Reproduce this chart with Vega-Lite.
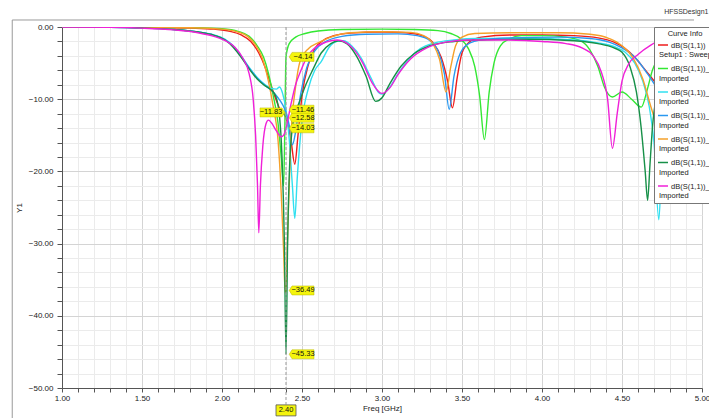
{
  "$schema": "https://vega.github.io/schema/vega-lite/v6.json",
  "width": 640,
  "height": 361,
  "autosize": "none",
  "padding": {"left": 62, "top": 27, "right": 7, "bottom": 30},
  "background": "white",
  "config": {
    "font": "Liberation Sans",
    "view": {"stroke": null},
    "axis": {
      "labelOverlap": false, "labelFlush": false, "labelBound": false,
      "labelFontSize": 8, "labelColor": "#222",
      "titleFontSize": 8, "titleFontWeight": "normal", "titleColor": "#222",
      "tickColor": "#555", "domainColor": "#555",
      "grid": true, "gridColor": "#e6e6e6", "tickCount": 100
    },
    "axisX": {"tickSize": 4, "labelPadding": 2, "titlePadding": 2},
    "axisY": {"tickSize": 5, "labelPadding": 4, "titlePadding": 5}
  },
  "title": {"text": "S Parameter Plot 1", "fontSize": 13, "fontWeight": "bold", "color": "#111", "dx": -10, "offset": 5, "anchor": "middle"},
  "data": {"values": [{"anchor": 1}]},
  "datasets": {
    "curves": [
      {"curve":"dB(S(1,1))|Setup1 : Sweep","f":1.0,"db":0},{"curve":"dB(S(1,1))|Setup1 : Sweep","f":1.3,"db":-0.02},{"curve":"dB(S(1,1))|Setup1 : Sweep","f":1.6,"db":-0.06},{"curve":"dB(S(1,1))|Setup1 : Sweep","f":1.8,"db":-0.15},{"curve":"dB(S(1,1))|Setup1 : Sweep","f":1.95,"db":-0.3},{"curve":"dB(S(1,1))|Setup1 : Sweep","f":2.05,"db":-0.6},{"curve":"dB(S(1,1))|Setup1 : Sweep","f":2.12,"db":-1.1},{"curve":"dB(S(1,1))|Setup1 : Sweep","f":2.18,"db":-2.0},{"curve":"dB(S(1,1))|Setup1 : Sweep","f":2.23,"db":-3.6},{"curve":"dB(S(1,1))|Setup1 : Sweep","f":2.27,"db":-5.6},{"curve":"dB(S(1,1))|Setup1 : Sweep","f":2.3,"db":-7.6},{"curve":"dB(S(1,1))|Setup1 : Sweep","f":2.33,"db":-9.6},{"curve":"dB(S(1,1))|Setup1 : Sweep","f":2.36,"db":-11.3},{"curve":"dB(S(1,1))|Setup1 : Sweep","f":2.4,"db":-12.58},{"curve":"dB(S(1,1))|Setup1 : Sweep","f":2.43,"db":-15.5},{"curve":"dB(S(1,1))|Setup1 : Sweep","f":2.455,"db":-19},{"curve":"dB(S(1,1))|Setup1 : Sweep","f":2.475,"db":-15},{"curve":"dB(S(1,1))|Setup1 : Sweep","f":2.5,"db":-9.5},{"curve":"dB(S(1,1))|Setup1 : Sweep","f":2.54,"db":-5.2},{"curve":"dB(S(1,1))|Setup1 : Sweep","f":2.58,"db":-3.0},{"curve":"dB(S(1,1))|Setup1 : Sweep","f":2.63,"db":-1.9},{"curve":"dB(S(1,1))|Setup1 : Sweep","f":2.7,"db":-1.2},{"curve":"dB(S(1,1))|Setup1 : Sweep","f":2.8,"db":-0.85},{"curve":"dB(S(1,1))|Setup1 : Sweep","f":3.0,"db":-0.7},{"curve":"dB(S(1,1))|Setup1 : Sweep","f":3.15,"db":-0.8},{"curve":"dB(S(1,1))|Setup1 : Sweep","f":3.25,"db":-1.2},{"curve":"dB(S(1,1))|Setup1 : Sweep","f":3.32,"db":-2.2},{"curve":"dB(S(1,1))|Setup1 : Sweep","f":3.37,"db":-4.2},{"curve":"dB(S(1,1))|Setup1 : Sweep","f":3.41,"db":-7.5},{"curve":"dB(S(1,1))|Setup1 : Sweep","f":3.44,"db":-11.2},{"curve":"dB(S(1,1))|Setup1 : Sweep","f":3.47,"db":-7},{"curve":"dB(S(1,1))|Setup1 : Sweep","f":3.5,"db":-3.6},{"curve":"dB(S(1,1))|Setup1 : Sweep","f":3.55,"db":-2.0},{"curve":"dB(S(1,1))|Setup1 : Sweep","f":3.62,"db":-1.4},{"curve":"dB(S(1,1))|Setup1 : Sweep","f":3.8,"db":-1.1},{"curve":"dB(S(1,1))|Setup1 : Sweep","f":4.0,"db":-1.1},{"curve":"dB(S(1,1))|Setup1 : Sweep","f":4.2,"db":-1.2},{"curve":"dB(S(1,1))|Setup1 : Sweep","f":4.35,"db":-1.5},{"curve":"dB(S(1,1))|Setup1 : Sweep","f":4.45,"db":-2.1},{"curve":"dB(S(1,1))|Setup1 : Sweep","f":4.52,"db":-3.0},{"curve":"dB(S(1,1))|Setup1 : Sweep","f":4.58,"db":-4.2},{"curve":"dB(S(1,1))|Setup1 : Sweep","f":4.64,"db":-5.8},{"curve":"dB(S(1,1))|Setup1 : Sweep","f":4.72,"db":-8},{"curve":"dB(S(1,1))|Setup1 : Sweep","f":4.82,"db":-10.5},{"curve":"dB(S(1,1))|Setup1 : Sweep","f":4.92,"db":-12.5},{"curve":"dB(S(1,1))|Setup1 : Sweep","f":5.0,"db":-14},

      {"curve":"dB(S(1,1))_1|Imported","f":1.0,"db":0},{"curve":"dB(S(1,1))_1|Imported","f":1.5,"db":-0.02},{"curve":"dB(S(1,1))_1|Imported","f":1.8,"db":-0.08},{"curve":"dB(S(1,1))_1|Imported","f":2.0,"db":-0.25},{"curve":"dB(S(1,1))_1|Imported","f":2.1,"db":-0.6},{"curve":"dB(S(1,1))_1|Imported","f":2.17,"db":-1.3},{"curve":"dB(S(1,1))_1|Imported","f":2.22,"db":-2.6},{"curve":"dB(S(1,1))_1|Imported","f":2.26,"db":-4.2},{"curve":"dB(S(1,1))_1|Imported","f":2.29,"db":-6.4},{"curve":"dB(S(1,1))_1|Imported","f":2.32,"db":-9.5},{"curve":"dB(S(1,1))_1|Imported","f":2.35,"db":-13.3},{"curve":"dB(S(1,1))_1|Imported","f":2.37,"db":-18},{"curve":"dB(S(1,1))_1|Imported","f":2.385,"db":-22},{"curve":"dB(S(1,1))_1|Imported","f":2.392,"db":-15},{"curve":"dB(S(1,1))_1|Imported","f":2.4,"db":-4.14},{"curve":"dB(S(1,1))_1|Imported","f":2.42,"db":-2.3},{"curve":"dB(S(1,1))_1|Imported","f":2.46,"db":-1.4},{"curve":"dB(S(1,1))_1|Imported","f":2.52,"db":-0.9},{"curve":"dB(S(1,1))_1|Imported","f":2.6,"db":-0.55},{"curve":"dB(S(1,1))_1|Imported","f":2.75,"db":-0.35},{"curve":"dB(S(1,1))_1|Imported","f":3.0,"db":-0.3},{"curve":"dB(S(1,1))_1|Imported","f":3.2,"db":-0.35},{"curve":"dB(S(1,1))_1|Imported","f":3.35,"db":-0.5},{"curve":"dB(S(1,1))_1|Imported","f":3.43,"db":-0.9},{"curve":"dB(S(1,1))_1|Imported","f":3.49,"db":-1.6},{"curve":"dB(S(1,1))_1|Imported","f":3.54,"db":-3},{"curve":"dB(S(1,1))_1|Imported","f":3.58,"db":-5.5},{"curve":"dB(S(1,1))_1|Imported","f":3.61,"db":-9.5},{"curve":"dB(S(1,1))_1|Imported","f":3.64,"db":-15.6},{"curve":"dB(S(1,1))_1|Imported","f":3.67,"db":-9},{"curve":"dB(S(1,1))_1|Imported","f":3.7,"db":-5},{"curve":"dB(S(1,1))_1|Imported","f":3.74,"db":-2.6},{"curve":"dB(S(1,1))_1|Imported","f":3.8,"db":-1.6},{"curve":"dB(S(1,1))_1|Imported","f":3.87,"db":-1.2},{"curve":"dB(S(1,1))_1|Imported","f":4.0,"db":-1.2},{"curve":"dB(S(1,1))_1|Imported","f":4.15,"db":-1.4},{"curve":"dB(S(1,1))_1|Imported","f":4.24,"db":-1.9},{"curve":"dB(S(1,1))_1|Imported","f":4.3,"db":-3.2},{"curve":"dB(S(1,1))_1|Imported","f":4.35,"db":-5.5},{"curve":"dB(S(1,1))_1|Imported","f":4.39,"db":-8.3},{"curve":"dB(S(1,1))_1|Imported","f":4.44,"db":-9.7},{"curve":"dB(S(1,1))_1|Imported","f":4.5,"db":-9.0},{"curve":"dB(S(1,1))_1|Imported","f":4.56,"db":-10},{"curve":"dB(S(1,1))_1|Imported","f":4.62,"db":-11.1},{"curve":"dB(S(1,1))_1|Imported","f":4.66,"db":-8.5},{"curve":"dB(S(1,1))_1|Imported","f":4.69,"db":-6},{"curve":"dB(S(1,1))_1|Imported","f":4.75,"db":-3.8},{"curve":"dB(S(1,1))_1|Imported","f":4.85,"db":-2.5},{"curve":"dB(S(1,1))_1|Imported","f":5.0,"db":-2},

      {"curve":"dB(S(1,1))_2|Imported","f":1.0,"db":0},{"curve":"dB(S(1,1))_2|Imported","f":1.3,"db":-0.03},{"curve":"dB(S(1,1))_2|Imported","f":1.5,"db":-0.12},{"curve":"dB(S(1,1))_2|Imported","f":1.7,"db":-0.35},{"curve":"dB(S(1,1))_2|Imported","f":1.85,"db":-0.7},{"curve":"dB(S(1,1))_2|Imported","f":1.95,"db":-1.1},{"curve":"dB(S(1,1))_2|Imported","f":2.02,"db":-1.7},{"curve":"dB(S(1,1))_2|Imported","f":2.07,"db":-2.6},{"curve":"dB(S(1,1))_2|Imported","f":2.12,"db":-4},{"curve":"dB(S(1,1))_2|Imported","f":2.17,"db":-5.6},{"curve":"dB(S(1,1))_2|Imported","f":2.22,"db":-7},{"curve":"dB(S(1,1))_2|Imported","f":2.27,"db":-8},{"curve":"dB(S(1,1))_2|Imported","f":2.31,"db":-8.5},{"curve":"dB(S(1,1))_2|Imported","f":2.34,"db":-8.6},{"curve":"dB(S(1,1))_2|Imported","f":2.36,"db":-8.3},{"curve":"dB(S(1,1))_2|Imported","f":2.38,"db":-9.3},{"curve":"dB(S(1,1))_2|Imported","f":2.4,"db":-11.46},{"curve":"dB(S(1,1))_2|Imported","f":2.42,"db":-15.5},{"curve":"dB(S(1,1))_2|Imported","f":2.44,"db":-22},{"curve":"dB(S(1,1))_2|Imported","f":2.455,"db":-26.5},{"curve":"dB(S(1,1))_2|Imported","f":2.47,"db":-21},{"curve":"dB(S(1,1))_2|Imported","f":2.5,"db":-13},{"curve":"dB(S(1,1))_2|Imported","f":2.54,"db":-8.5},{"curve":"dB(S(1,1))_2|Imported","f":2.58,"db":-6},{"curve":"dB(S(1,1))_2|Imported","f":2.62,"db":-4.8},{"curve":"dB(S(1,1))_2|Imported","f":2.67,"db":-2.8},{"curve":"dB(S(1,1))_2|Imported","f":2.72,"db":-2.0},{"curve":"dB(S(1,1))_2|Imported","f":2.76,"db":-1.9},{"curve":"dB(S(1,1))_2|Imported","f":2.81,"db":-2.6},{"curve":"dB(S(1,1))_2|Imported","f":2.87,"db":-4.3},{"curve":"dB(S(1,1))_2|Imported","f":2.93,"db":-7},{"curve":"dB(S(1,1))_2|Imported","f":2.98,"db":-9.1},{"curve":"dB(S(1,1))_2|Imported","f":3.0,"db":-9.3},{"curve":"dB(S(1,1))_2|Imported","f":3.04,"db":-8.6},{"curve":"dB(S(1,1))_2|Imported","f":3.1,"db":-6.5},{"curve":"dB(S(1,1))_2|Imported","f":3.17,"db":-4.4},{"curve":"dB(S(1,1))_2|Imported","f":3.24,"db":-3.0},{"curve":"dB(S(1,1))_2|Imported","f":3.33,"db":-2.2},{"curve":"dB(S(1,1))_2|Imported","f":3.45,"db":-1.8},{"curve":"dB(S(1,1))_2|Imported","f":3.6,"db":-1.6},{"curve":"dB(S(1,1))_2|Imported","f":3.9,"db":-1.6},{"curve":"dB(S(1,1))_2|Imported","f":4.2,"db":-1.8},{"curve":"dB(S(1,1))_2|Imported","f":4.35,"db":-2.2},{"curve":"dB(S(1,1))_2|Imported","f":4.45,"db":-2.7},{"curve":"dB(S(1,1))_2|Imported","f":4.52,"db":-3.5},{"curve":"dB(S(1,1))_2|Imported","f":4.58,"db":-5},{"curve":"dB(S(1,1))_2|Imported","f":4.63,"db":-7.5},{"curve":"dB(S(1,1))_2|Imported","f":4.67,"db":-11},{"curve":"dB(S(1,1))_2|Imported","f":4.7,"db":-16},{"curve":"dB(S(1,1))_2|Imported","f":4.73,"db":-26.7},{"curve":"dB(S(1,1))_2|Imported","f":4.75,"db":-18},{"curve":"dB(S(1,1))_2|Imported","f":4.78,"db":-11},{"curve":"dB(S(1,1))_2|Imported","f":4.83,"db":-7},{"curve":"dB(S(1,1))_2|Imported","f":4.9,"db":-5},{"curve":"dB(S(1,1))_2|Imported","f":5.0,"db":-3.5},

      {"curve":"dB(S(1,1))_3|Imported","f":1.0,"db":0},{"curve":"dB(S(1,1))_3|Imported","f":1.3,"db":-0.03},{"curve":"dB(S(1,1))_3|Imported","f":1.5,"db":-0.12},{"curve":"dB(S(1,1))_3|Imported","f":1.7,"db":-0.35},{"curve":"dB(S(1,1))_3|Imported","f":1.85,"db":-0.7},{"curve":"dB(S(1,1))_3|Imported","f":1.95,"db":-1.15},{"curve":"dB(S(1,1))_3|Imported","f":2.02,"db":-1.8},{"curve":"dB(S(1,1))_3|Imported","f":2.07,"db":-2.7},{"curve":"dB(S(1,1))_3|Imported","f":2.12,"db":-4.1},{"curve":"dB(S(1,1))_3|Imported","f":2.17,"db":-5.7},{"curve":"dB(S(1,1))_3|Imported","f":2.22,"db":-7.1},{"curve":"dB(S(1,1))_3|Imported","f":2.27,"db":-8.1},{"curve":"dB(S(1,1))_3|Imported","f":2.31,"db":-8.8},{"curve":"dB(S(1,1))_3|Imported","f":2.35,"db":-9.8},{"curve":"dB(S(1,1))_3|Imported","f":2.38,"db":-10.8},{"curve":"dB(S(1,1))_3|Imported","f":2.4,"db":-11.83},{"curve":"dB(S(1,1))_3|Imported","f":2.42,"db":-13.6},{"curve":"dB(S(1,1))_3|Imported","f":2.44,"db":-16.3},{"curve":"dB(S(1,1))_3|Imported","f":2.46,"db":-14.5},{"curve":"dB(S(1,1))_3|Imported","f":2.49,"db":-9.5},{"curve":"dB(S(1,1))_3|Imported","f":2.53,"db":-5.6},{"curve":"dB(S(1,1))_3|Imported","f":2.58,"db":-3.3},{"curve":"dB(S(1,1))_3|Imported","f":2.65,"db":-2.0},{"curve":"dB(S(1,1))_3|Imported","f":2.75,"db":-1.3},{"curve":"dB(S(1,1))_3|Imported","f":2.9,"db":-1.0},{"curve":"dB(S(1,1))_3|Imported","f":3.1,"db":-0.95},{"curve":"dB(S(1,1))_3|Imported","f":3.22,"db":-1.2},{"curve":"dB(S(1,1))_3|Imported","f":3.3,"db":-1.9},{"curve":"dB(S(1,1))_3|Imported","f":3.35,"db":-3.3},{"curve":"dB(S(1,1))_3|Imported","f":3.39,"db":-6.5},{"curve":"dB(S(1,1))_3|Imported","f":3.42,"db":-11.4},{"curve":"dB(S(1,1))_3|Imported","f":3.45,"db":-6.8},{"curve":"dB(S(1,1))_3|Imported","f":3.49,"db":-3.6},{"curve":"dB(S(1,1))_3|Imported","f":3.55,"db":-2.2},{"curve":"dB(S(1,1))_3|Imported","f":3.62,"db":-1.8},{"curve":"dB(S(1,1))_3|Imported","f":3.8,"db":-1.5},{"curve":"dB(S(1,1))_3|Imported","f":4.1,"db":-1.4},{"curve":"dB(S(1,1))_3|Imported","f":4.3,"db":-1.6},{"curve":"dB(S(1,1))_3|Imported","f":4.42,"db":-2.1},{"curve":"dB(S(1,1))_3|Imported","f":4.5,"db":-2.9},{"curve":"dB(S(1,1))_3|Imported","f":4.58,"db":-4.2},{"curve":"dB(S(1,1))_3|Imported","f":4.66,"db":-6.5},{"curve":"dB(S(1,1))_3|Imported","f":4.75,"db":-9.5},{"curve":"dB(S(1,1))_3|Imported","f":4.85,"db":-12},{"curve":"dB(S(1,1))_3|Imported","f":5.0,"db":-15},

      {"curve":"dB(S(1,1))_4|Imported","f":1.0,"db":0},{"curve":"dB(S(1,1))_4|Imported","f":1.5,"db":-0.03},{"curve":"dB(S(1,1))_4|Imported","f":1.8,"db":-0.1},{"curve":"dB(S(1,1))_4|Imported","f":2.0,"db":-0.3},{"curve":"dB(S(1,1))_4|Imported","f":2.1,"db":-0.7},{"curve":"dB(S(1,1))_4|Imported","f":2.16,"db":-1.3},{"curve":"dB(S(1,1))_4|Imported","f":2.21,"db":-2.5},{"curve":"dB(S(1,1))_4|Imported","f":2.25,"db":-4.2},{"curve":"dB(S(1,1))_4|Imported","f":2.29,"db":-7.5},{"curve":"dB(S(1,1))_4|Imported","f":2.32,"db":-11},{"curve":"dB(S(1,1))_4|Imported","f":2.35,"db":-15.6},{"curve":"dB(S(1,1))_4|Imported","f":2.37,"db":-23},{"curve":"dB(S(1,1))_4|Imported","f":2.385,"db":-31},{"curve":"dB(S(1,1))_4|Imported","f":2.395,"db":-36.8},{"curve":"dB(S(1,1))_4|Imported","f":2.4,"db":-36.49},{"curve":"dB(S(1,1))_4|Imported","f":2.41,"db":-29},{"curve":"dB(S(1,1))_4|Imported","f":2.43,"db":-15.6},{"curve":"dB(S(1,1))_4|Imported","f":2.46,"db":-8.3},{"curve":"dB(S(1,1))_4|Imported","f":2.49,"db":-4.6},{"curve":"dB(S(1,1))_4|Imported","f":2.54,"db":-3.0},{"curve":"dB(S(1,1))_4|Imported","f":2.6,"db":-2.2},{"curve":"dB(S(1,1))_4|Imported","f":2.68,"db":-1.4},{"curve":"dB(S(1,1))_4|Imported","f":2.8,"db":-0.8},{"curve":"dB(S(1,1))_4|Imported","f":3.0,"db":-0.65},{"curve":"dB(S(1,1))_4|Imported","f":3.18,"db":-0.75},{"curve":"dB(S(1,1))_4|Imported","f":3.26,"db":-1.2},{"curve":"dB(S(1,1))_4|Imported","f":3.32,"db":-2.4},{"curve":"dB(S(1,1))_4|Imported","f":3.36,"db":-4.5},{"curve":"dB(S(1,1))_4|Imported","f":3.4,"db":-9},{"curve":"dB(S(1,1))_4|Imported","f":3.43,"db":-5.5},{"curve":"dB(S(1,1))_4|Imported","f":3.46,"db":-2.6},{"curve":"dB(S(1,1))_4|Imported","f":3.5,"db":-1.4},{"curve":"dB(S(1,1))_4|Imported","f":3.58,"db":-0.9},{"curve":"dB(S(1,1))_4|Imported","f":3.8,"db":-0.8},{"curve":"dB(S(1,1))_4|Imported","f":4.1,"db":-0.8},{"curve":"dB(S(1,1))_4|Imported","f":4.3,"db":-1.0},{"curve":"dB(S(1,1))_4|Imported","f":4.42,"db":-1.6},{"curve":"dB(S(1,1))_4|Imported","f":4.5,"db":-2.6},{"curve":"dB(S(1,1))_4|Imported","f":4.57,"db":-4.3},{"curve":"dB(S(1,1))_4|Imported","f":4.63,"db":-7.2},{"curve":"dB(S(1,1))_4|Imported","f":4.68,"db":-11},{"curve":"dB(S(1,1))_4|Imported","f":4.74,"db":-15},{"curve":"dB(S(1,1))_4|Imported","f":4.82,"db":-18.5},{"curve":"dB(S(1,1))_4|Imported","f":4.9,"db":-20.5},{"curve":"dB(S(1,1))_4|Imported","f":5.0,"db":-22},

      {"curve":"dB(S(1,1))_5|Imported","f":1.0,"db":0},{"curve":"dB(S(1,1))_5|Imported","f":1.3,"db":-0.03},{"curve":"dB(S(1,1))_5|Imported","f":1.5,"db":-0.12},{"curve":"dB(S(1,1))_5|Imported","f":1.7,"db":-0.35},{"curve":"dB(S(1,1))_5|Imported","f":1.85,"db":-0.7},{"curve":"dB(S(1,1))_5|Imported","f":1.95,"db":-1.15},{"curve":"dB(S(1,1))_5|Imported","f":2.02,"db":-1.8},{"curve":"dB(S(1,1))_5|Imported","f":2.07,"db":-2.8},{"curve":"dB(S(1,1))_5|Imported","f":2.12,"db":-4.2},{"curve":"dB(S(1,1))_5|Imported","f":2.17,"db":-5.8},{"curve":"dB(S(1,1))_5|Imported","f":2.22,"db":-7.2},{"curve":"dB(S(1,1))_5|Imported","f":2.26,"db":-8.0},{"curve":"dB(S(1,1))_5|Imported","f":2.3,"db":-8.6},{"curve":"dB(S(1,1))_5|Imported","f":2.33,"db":-9.3},{"curve":"dB(S(1,1))_5|Imported","f":2.355,"db":-11.5},{"curve":"dB(S(1,1))_5|Imported","f":2.375,"db":-18},{"curve":"dB(S(1,1))_5|Imported","f":2.39,"db":-30},{"curve":"dB(S(1,1))_5|Imported","f":2.4,"db":-45.33},{"curve":"dB(S(1,1))_5|Imported","f":2.41,"db":-30},{"curve":"dB(S(1,1))_5|Imported","f":2.425,"db":-18},{"curve":"dB(S(1,1))_5|Imported","f":2.45,"db":-12.5},{"curve":"dB(S(1,1))_5|Imported","f":2.48,"db":-10.6},{"curve":"dB(S(1,1))_5|Imported","f":2.52,"db":-8.2},{"curve":"dB(S(1,1))_5|Imported","f":2.57,"db":-5.8},{"curve":"dB(S(1,1))_5|Imported","f":2.62,"db":-3.6},{"curve":"dB(S(1,1))_5|Imported","f":2.68,"db":-2.3},{"curve":"dB(S(1,1))_5|Imported","f":2.73,"db":-1.9},{"curve":"dB(S(1,1))_5|Imported","f":2.78,"db":-2.3},{"curve":"dB(S(1,1))_5|Imported","f":2.84,"db":-4},{"curve":"dB(S(1,1))_5|Imported","f":2.9,"db":-6.8},{"curve":"dB(S(1,1))_5|Imported","f":2.96,"db":-10.3},{"curve":"dB(S(1,1))_5|Imported","f":3.0,"db":-9.8},{"curve":"dB(S(1,1))_5|Imported","f":3.05,"db":-7.8},{"curve":"dB(S(1,1))_5|Imported","f":3.12,"db":-5.4},{"curve":"dB(S(1,1))_5|Imported","f":3.2,"db":-3.7},{"curve":"dB(S(1,1))_5|Imported","f":3.3,"db":-2.6},{"curve":"dB(S(1,1))_5|Imported","f":3.45,"db":-2.0},{"curve":"dB(S(1,1))_5|Imported","f":3.6,"db":-1.8},{"curve":"dB(S(1,1))_5|Imported","f":3.9,"db":-1.7},{"curve":"dB(S(1,1))_5|Imported","f":4.2,"db":-1.9},{"curve":"dB(S(1,1))_5|Imported","f":4.35,"db":-2.3},{"curve":"dB(S(1,1))_5|Imported","f":4.45,"db":-2.9},{"curve":"dB(S(1,1))_5|Imported","f":4.5,"db":-3.5},{"curve":"dB(S(1,1))_5|Imported","f":4.55,"db":-5.5},{"curve":"dB(S(1,1))_5|Imported","f":4.59,"db":-9},{"curve":"dB(S(1,1))_5|Imported","f":4.62,"db":-14},{"curve":"dB(S(1,1))_5|Imported","f":4.645,"db":-20},{"curve":"dB(S(1,1))_5|Imported","f":4.66,"db":-24},{"curve":"dB(S(1,1))_5|Imported","f":4.675,"db":-19},{"curve":"dB(S(1,1))_5|Imported","f":4.69,"db":-14},{"curve":"dB(S(1,1))_5|Imported","f":4.72,"db":-9},{"curve":"dB(S(1,1))_5|Imported","f":4.78,"db":-5.5},{"curve":"dB(S(1,1))_5|Imported","f":4.88,"db":-3.5},{"curve":"dB(S(1,1))_5|Imported","f":5.0,"db":-2.5},

      {"curve":"dB(S(1,1))_6|Imported","f":1.0,"db":0},{"curve":"dB(S(1,1))_6|Imported","f":1.3,"db":-0.04},{"curve":"dB(S(1,1))_6|Imported","f":1.5,"db":-0.15},{"curve":"dB(S(1,1))_6|Imported","f":1.7,"db":-0.4},{"curve":"dB(S(1,1))_6|Imported","f":1.85,"db":-0.8},{"curve":"dB(S(1,1))_6|Imported","f":1.95,"db":-1.3},{"curve":"dB(S(1,1))_6|Imported","f":2.02,"db":-1.9},{"curve":"dB(S(1,1))_6|Imported","f":2.08,"db":-2.8},{"curve":"dB(S(1,1))_6|Imported","f":2.13,"db":-4.3},{"curve":"dB(S(1,1))_6|Imported","f":2.17,"db":-6.5},{"curve":"dB(S(1,1))_6|Imported","f":2.195,"db":-10},{"curve":"dB(S(1,1))_6|Imported","f":2.21,"db":-15},{"curve":"dB(S(1,1))_6|Imported","f":2.222,"db":-22},{"curve":"dB(S(1,1))_6|Imported","f":2.23,"db":-28.5},{"curve":"dB(S(1,1))_6|Imported","f":2.24,"db":-22},{"curve":"dB(S(1,1))_6|Imported","f":2.255,"db":-16.5},{"curve":"dB(S(1,1))_6|Imported","f":2.275,"db":-13.4},{"curve":"dB(S(1,1))_6|Imported","f":2.29,"db":-12.9},{"curve":"dB(S(1,1))_6|Imported","f":2.31,"db":-13.3},{"curve":"dB(S(1,1))_6|Imported","f":2.34,"db":-14.4},{"curve":"dB(S(1,1))_6|Imported","f":2.37,"db":-15.2},{"curve":"dB(S(1,1))_6|Imported","f":2.385,"db":-15},{"curve":"dB(S(1,1))_6|Imported","f":2.4,"db":-14.03},{"curve":"dB(S(1,1))_6|Imported","f":2.43,"db":-10.8},{"curve":"dB(S(1,1))_6|Imported","f":2.46,"db":-8},{"curve":"dB(S(1,1))_6|Imported","f":2.49,"db":-6.2},{"curve":"dB(S(1,1))_6|Imported","f":2.53,"db":-4.2},{"curve":"dB(S(1,1))_6|Imported","f":2.58,"db":-2.9},{"curve":"dB(S(1,1))_6|Imported","f":2.65,"db":-2.1},{"curve":"dB(S(1,1))_6|Imported","f":2.72,"db":-1.8},{"curve":"dB(S(1,1))_6|Imported","f":2.77,"db":-2.1},{"curve":"dB(S(1,1))_6|Imported","f":2.82,"db":-3},{"curve":"dB(S(1,1))_6|Imported","f":2.88,"db":-5},{"curve":"dB(S(1,1))_6|Imported","f":2.94,"db":-7.8},{"curve":"dB(S(1,1))_6|Imported","f":3.0,"db":-9.2},{"curve":"dB(S(1,1))_6|Imported","f":3.05,"db":-8.4},{"curve":"dB(S(1,1))_6|Imported","f":3.1,"db":-6.6},{"curve":"dB(S(1,1))_6|Imported","f":3.18,"db":-4.4},{"curve":"dB(S(1,1))_6|Imported","f":3.28,"db":-2.9},{"curve":"dB(S(1,1))_6|Imported","f":3.4,"db":-2.1},{"curve":"dB(S(1,1))_6|Imported","f":3.55,"db":-1.8},{"curve":"dB(S(1,1))_6|Imported","f":3.75,"db":-1.8},{"curve":"dB(S(1,1))_6|Imported","f":4.0,"db":-2.0},{"curve":"dB(S(1,1))_6|Imported","f":4.15,"db":-2.3},{"curve":"dB(S(1,1))_6|Imported","f":4.25,"db":-2.9},{"curve":"dB(S(1,1))_6|Imported","f":4.32,"db":-4},{"curve":"dB(S(1,1))_6|Imported","f":4.37,"db":-6.2},{"curve":"dB(S(1,1))_6|Imported","f":4.41,"db":-10},{"curve":"dB(S(1,1))_6|Imported","f":4.44,"db":-16.8},{"curve":"dB(S(1,1))_6|Imported","f":4.47,"db":-12},{"curve":"dB(S(1,1))_6|Imported","f":4.5,"db":-7.5},{"curve":"dB(S(1,1))_6|Imported","f":4.54,"db":-5.2},{"curve":"dB(S(1,1))_6|Imported","f":4.6,"db":-3.8},{"curve":"dB(S(1,1))_6|Imported","f":4.68,"db":-2.5},{"curve":"dB(S(1,1))_6|Imported","f":4.8,"db":-1.3},{"curve":"dB(S(1,1))_6|Imported","f":5.0,"db":-0.8}
    ],
    "markersRight": [
      {"f": 2.4, "db": -4.14},
      {"f": 2.4, "db": -11.46},
      {"f": 2.4, "db": -12.58},
      {"f": 2.4, "db": -14.03},
      {"f": 2.4, "db": -36.49},
      {"f": 2.4, "db": -45.33}
    ],
    "markersLeft": [
      {"f": 2.4, "db": -11.83}
    ]
  },
  "layer": [
    {
      "data": {"name": "curves"},
      "mark": {"type": "line", "strokeWidth": 1.4, "interpolate": "monotone", "clip": true},
      "encoding": {
        "x": {
          "field": "f", "type": "quantitative",
          "scale": {"domain": [1, 5], "nice": false, "zero": false},
          "axis": {
            "title": "Freq [GHz]",
            "values": [1,1.1,1.2,1.3,1.4,1.5,1.6,1.7,1.8,1.9,2,2.1,2.2,2.3,2.4,2.5,2.6,2.7,2.8,2.9,3,3.1,3.2,3.3,3.4,3.5,3.6,3.7,3.8,3.9,4,4.1,4.2,4.3,4.4,4.5,4.6,4.7,4.8,4.9,5],
            "tickCount": 100,
            "labelExpr": "abs(datum.value*2-round(datum.value*2))<0.001 ? format(datum.value,'.2f') : ''",
            "labelOverlap": false,
            "gridColor": {"condition": {"test": "abs(datum.value*2-round(datum.value*2))<0.001", "value": "#d4d4d4"}, "value": "#ebebeb"}
          }
        },
        "y": {
          "field": "db", "type": "quantitative",
          "scale": {"domain": [-50, 0], "nice": false, "zero": false},
          "axis": {
            "title": "Y1",
            "values": [-50,-48,-46,-44,-42,-40,-38,-36,-34,-32,-30,-28,-26,-24,-22,-20,-18,-16,-14,-12,-10,-8,-6,-4,-2,0],
            "tickCount": 100,
            "labelExpr": "datum.value % 10 == 0 ? format(datum.value,'.2f') : ''",
            "labelOverlap": false,
            "gridColor": {"condition": {"test": "datum.value % 10 == 0", "value": "#d4d4d4"}, "value": "#ebebeb"}
          }
        },
        "color": {
          "field": "curve", "type": "nominal",
          "scale": {
            "domain": ["dB(S(1,1))|Setup1 : Sweep","dB(S(1,1))_1|Imported","dB(S(1,1))_2|Imported","dB(S(1,1))_3|Imported","dB(S(1,1))_4|Imported","dB(S(1,1))_5|Imported","dB(S(1,1))_6|Imported"],
            "range": ["#ee1c1c","#33e833","#30e0f0","#2a98f0","#f5a02a","#179048","#f020d8"]
          },
          "legend": {
            "orient": "none", "legendX": 592, "legendY": 0,
            "title": "Curve Info", "titleFontSize": 7.5, "titleFontWeight": "normal", "titleColor": "#222", "titleAnchor": "middle", "titlePadding": -2,
            "labelFontSize": 7.5, "labelColor": "#222", "labelLimit": 300,
            "labelExpr": "['\u2800\u2800' + split(datum.label,'|')[0], split(datum.label,'|')[1]]",
            "labelOffset": -10, "labelBaseline": "top",
            "symbolType": "M-1,0.7H1", "symbolSize": 100, "symbolStrokeWidth": 1.5,
            "rowPadding": 0.5, "padding": 3,
            "fillColor": "white", "strokeColor": "#777", "cornerRadius": 0
          }
        }
      }
    },
    {
      "mark": {"type": "rule", "color": "#9a9a9a", "strokeWidth": 1},
      "encoding": {
        "x": {"datum": 0.689, "type": "quantitative"},
        "y": {"datum": 0.97, "type": "quantitative"},
        "y2": {"datum": -54.2}
      }
    },
    {
      "mark": {"type": "rule", "color": "#9a9a9a", "strokeWidth": 1},
      "encoding": {
        "x": {"datum": 0.689, "type": "quantitative"},
        "x2": {"datum": 4.95},
        "y": {"datum": 0.97, "type": "quantitative"}
      }
    },
    {
      "mark": {"type": "rule", "color": "#999999", "strokeWidth": 1, "strokeDash": [3, 2]},
      "encoding": {
        "x": {"datum": 2.4, "type": "quantitative"},
        "y": {"datum": 0, "type": "quantitative"},
        "y2": {"datum": -52.3}
      }
    },
    {
      "data": {"name": "markersRight"},
      "mark": {"type": "point", "shape": "M-1.25,0L-1,-0.41H1V0.41H-1Z", "size": 484, "filled": true, "fill": "#f4f40c", "stroke": "#b8b800", "strokeWidth": 0.5, "opacity": 1, "xOffset": 17},
      "encoding": {
        "x": {"field": "f", "type": "quantitative"},
        "y": {"field": "db", "type": "quantitative"}
      }
    },
    {
      "data": {"name": "markersRight"},
      "mark": {"type": "text", "fontSize": 7.5, "color": "#111", "align": "center", "baseline": "middle", "xOffset": 17},
      "encoding": {
        "x": {"field": "f", "type": "quantitative"},
        "y": {"field": "db", "type": "quantitative"},
        "text": {"field": "db", "type": "quantitative", "format": ".2f"}
      }
    },
    {
      "data": {"name": "markersLeft"},
      "mark": {"type": "point", "shape": "M1.25,0L1,0.41H-1V-0.41H1Z", "size": 484, "filled": true, "fill": "#f4f40c", "stroke": "#b8b800", "strokeWidth": 0.5, "opacity": 1, "xOffset": -15},
      "encoding": {
        "x": {"field": "f", "type": "quantitative"},
        "y": {"field": "db", "type": "quantitative"}
      }
    },
    {
      "data": {"name": "markersLeft"},
      "mark": {"type": "text", "fontSize": 7.5, "color": "#111", "align": "center", "baseline": "middle", "xOffset": -15},
      "encoding": {
        "x": {"field": "f", "type": "quantitative"},
        "y": {"field": "db", "type": "quantitative"},
        "text": {"field": "db", "type": "quantitative", "format": ".2f"}
      }
    },
    {
      "mark": {"type": "point", "shape": "M-1,-0.55H1V0.55H-1Z", "size": 400, "filled": true, "fill": "#f4f40c", "stroke": "#555", "strokeWidth": 0.8, "opacity": 1},
      "encoding": {
        "x": {"datum": 2.4, "type": "quantitative"},
        "y": {"datum": -53.1, "type": "quantitative"}
      }
    },
    {
      "mark": {"type": "text", "fontSize": 7.5, "color": "#111", "align": "center", "baseline": "middle", "text": "2.40"},
      "encoding": {
        "x": {"datum": 2.4, "type": "quantitative"},
        "y": {"datum": -53.1, "type": "quantitative"}
      }
    },
    {
      "mark": {"type": "text", "fontSize": 7, "color": "#333", "align": "center", "baseline": "middle", "text": "HFSSDesign1"},
      "encoding": {
        "x": {"datum": 4.902, "type": "quantitative"},
        "y": {"datum": 2.1, "type": "quantitative"}
      }
    }
  ]
}
